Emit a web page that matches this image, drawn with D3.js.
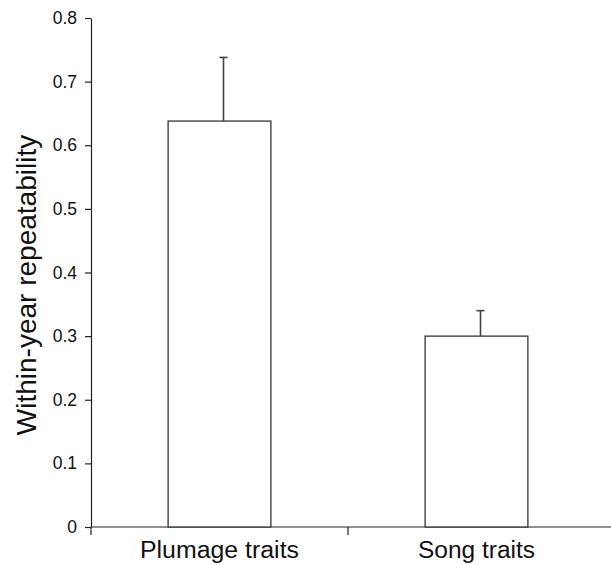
<!DOCTYPE html>
<html>
<head>
<meta charset="utf-8">
<script src="https://d3js.org/d3.v7.min.js"></script>
<style>
  body {
    margin: 0;
    background: #fff;
    font-family: "Liberation Sans", Arial, sans-serif;
  }
  .axis text {
    font-size: 17.5px;
    fill: #111;
  }
  .axis path, .axis line {
    stroke: #222;
    stroke-width: 1.2px;
  }
  .bar {
    fill: #fff;
    stroke: #333;
    stroke-width: 1.3px;
  }
  .err line {
    stroke: #444;
    stroke-width: 1.6px;
  }
</style>
</head>
<body>
<script>
  // data
  var categories = ["Plumage traits", "Song traits"];
  var means = [0.638, 0.30];
  var errors = [0.10, 0.04];
  var yTicks = [0, 0.1, 0.2, 0.3, 0.4, 0.5, 0.6, 0.7, 0.8];

  var W = 611, H = 565;
  var plot = {left: 91, right: 605, top: 18, bottom: 527};

  var svg = d3.select("body").append("svg")
      .attr("width", W)
      .attr("height", H);

  var x = d3.scaleBand()
      .domain(categories)
      .range([plot.left, plot.right])
      .paddingInner(0.6)
      .paddingOuter(0.3);

  var y = d3.scaleLinear()
      .domain([0, 0.8])
      .range([plot.bottom, plot.top]);

  // y axis
  svg.append("g")
      .attr("class", "y axis")
      .attr("transform", `translate(${plot.left},0)`)
      .call(d3.axisLeft(y)
        .tickValues(yTicks)
        .tickFormat(d => d === 0 ? "0" : d3.format(".1f")(d))
        .tickSize(6)
        .tickSizeOuter(0)
        .tickPadding(8));

  // x axis: baseline, ticks at band edges, labels under bands
  var xg = svg.append("g").attr("class", "x axis");

  xg.append("line")
      .attr("x1", plot.left).attr("x2", W)
      .attr("y1", plot.bottom).attr("y2", plot.bottom);

  xg.selectAll(".edge")
      .data(categories)
    .enter().append("line")
      .attr("class", "edge")
      .attr("x1", d => x(d) - x.step() * x.paddingOuter())
      .attr("x2", d => x(d) - x.step() * x.paddingOuter())
      .attr("y1", plot.bottom).attr("y2", plot.bottom + 8);

  xg.selectAll(".lab")
      .data(categories)
    .enter().append("text")
      .attr("class", "lab")
      .attr("x", d => x(d) + x.bandwidth() / 2)
      .attr("y", 558)
      .attr("text-anchor", "middle")
      .style("font-size", "23px")
      .attr("textLength", (d, i) => i === 0 ? 159 : 117)
      .attr("lengthAdjust", "spacingAndGlyphs")
      .text(d => d);

  // bars
  svg.selectAll(".bar")
      .data(categories)
    .enter().append("rect")
      .attr("class", "bar")
      .attr("x", d => x(d))
      .attr("width", x.bandwidth())
      .attr("y", (d, i) => y(means[i]))
      .attr("height", (d, i) => y(0) - y(means[i]));

  // error bars (upper only)
  var err = svg.selectAll(".err")
      .data(categories)
    .enter().append("g")
      .attr("class", "err")
      .attr("transform", d => `translate(${x(d) + x.bandwidth() / 2 + 4},0)`);

  err.append("line")
      .attr("x1", 0).attr("x2", 0)
      .attr("y1", (d, i) => y(means[i]))
      .attr("y2", (d, i) => y(means[i] + errors[i]));

  err.append("line")
      .attr("x1", -4).attr("x2", 4)
      .attr("y1", (d, i) => y(means[i] + errors[i]))
      .attr("y2", (d, i) => y(means[i] + errors[i]));

  // y label
  svg.append("text")
      .attr("transform", "translate(36,285) rotate(-90)")
      .attr("text-anchor", "middle")
      .style("font-size", "28px")
      .style("fill", "#111")
      .text("Within-year repeatability");
</script>
</body>
</html>
